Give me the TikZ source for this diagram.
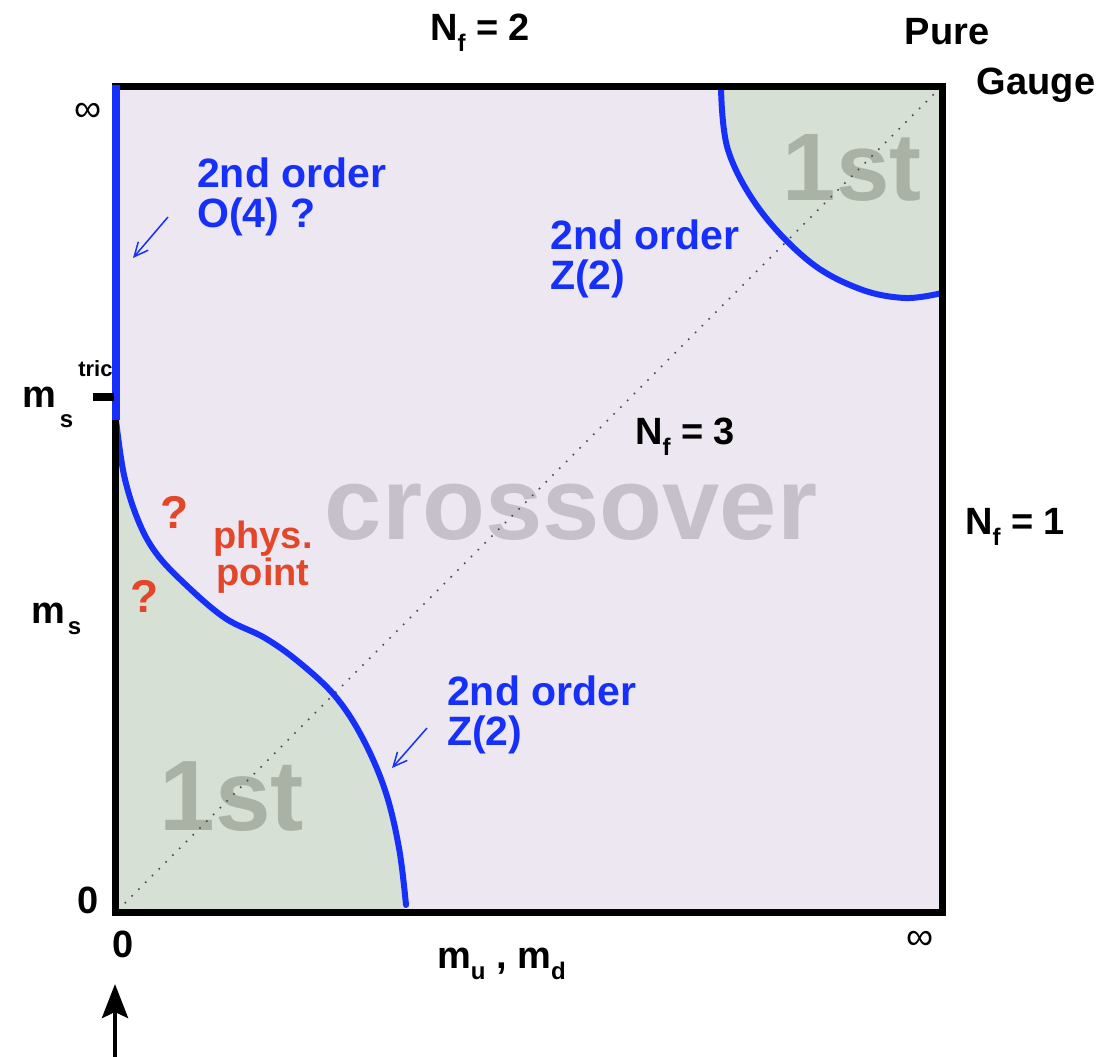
\documentclass[tikz,border=0pt]{standalone}
\usepackage{fontspec}
\setmainfont{Liberation Sans}
\usetikzlibrary{arrows.meta}
\definecolor{pdBlue}{RGB}{22,48,250}
\definecolor{pdRed}{RGB}{228,70,42}
\definecolor{pdLilac}{RGB}{236,231,241}
\definecolor{pdGreen}{RGB}{214,224,213}
\definecolor{pdGray}{RGB}{197,192,202}
\definecolor{pdGrayG}{RGB}{170,178,166}
\newcommand{\lowsub}[1]{\raisebox{-11pt}{\fontsize{24}{24}\selectfont #1}}
\def\lowcurve{(116,420) (124,475) (138,520) (156,553) (185,584) (225,618) (265,638) (300,663) (335,696) (362,737) (385,790) (399,848)}
\def\highcurve{(721,87) (728,150) (760,210) (810,262) (860,289) (905,298) (942,293)}

\begin{document}
\begin{tikzpicture}[x=1pt, y=-1pt,
  lab/.style={font=\fontsize{38}{38}\selectfont\bfseries, inner sep=0pt},
  thin lab/.style={font=\fontsize{38}{38}\selectfont, inner sep=0pt},
  blue lab/.style={font=\fontsize{41}{40}\selectfont\bfseries, text=pdBlue, align=left, inner sep=0pt},
  red lab/.style={font=\fontsize{38}{37}\selectfont\bfseries, text=pdRed, align=center, inner sep=0pt},
  big lab/.style={font=\fontsize{#1}{#1}\selectfont\bfseries, inner sep=0pt},
  transition/.style={pdBlue, line width=6pt, line cap=round},
  pointer/.style={pdBlue, line width=1.5pt, -{Straight Barb[length=14pt, width=13pt]}}]
\useasboundingbox (0,0) rectangle (1104,1057);
% regions
\fill[pdLilac] (115,87) rectangle (942,912);
\fill[pdGreen] plot[smooth, tension=0.6] coordinates {\lowcurve (406,912)} -- (115,912) -- cycle;
\fill[pdGreen] plot[smooth, tension=0.6] coordinates {\highcurve} -- (942,87) -- cycle;
\node[big lab=103, text=pdGray] (cross) at (571,512) {crossover};
\node[big lab=100, text=pdGrayG] (first lo) at (232,797) {1st};
\node[big lab=96, text=pdGrayG] (first hi) at (852,168) {1st};
% N_f = 3 line
\draw[gray!60!black, line width=1.6pt, dash pattern=on 1.6pt off 8pt] (118,910) -- (940,88);
% transition lines
\draw[transition] (116,87) -- plot[smooth, tension=0.6] coordinates {\lowcurve (406,905)};
\draw[transition] plot[smooth, tension=0.6] coordinates {\highcurve};
% frame
\draw[line width=7pt] (115,87) rectangle (942,912);
\draw[pdBlue, line width=8pt] (116,85) -- (116,420);
\draw[line width=8pt] (93,397) -- (114,397);
% axis labels
\node[lab] (nf2) at (480,33) {N\lowsub{f} = 2};
\node[lab] (pure) at (947,32) {Pure};
\node[lab] (gauge) at (1036,85) {Gauge};
\node[lab] (nf1) at (1015,527) {N\lowsub{f} = 1};
\node[lab] (nf3) at (685,437) {N\lowsub{f} = 3};
\node[thin lab] (inf y) at (88,112) {∞};
\node[thin lab] (inf x) at (920,940) {∞};
\node[lab] (zero y) at (88,900) {0};
\node[lab] (zero x) at (123,944) {0};
\node[lab, anchor=base west] (ms tric) at (22,407) {m\hspace{4pt}\raisebox{-20pt}{\fontsize{24}{24}\selectfont s}\hspace{5pt}\raisebox{31pt}{\fontsize{22}{22}\selectfont tric}};
\node[lab, anchor=base west] (ms) at (31,623) {m\hspace{3pt}\lowsub{s}};
\node[lab, anchor=base west] (mud) at (437,968) {m\lowsub{u} , m\lowsub{d}};
% phase transitions
\node[blue lab, anchor=north west] (o4) at (197,158) {2nd order\\O(4) ?};
\node[blue lab, anchor=north west] (z2 hi) at (550,220) {2nd order\\Z(2)};
\node[blue lab, anchor=north west] (z2 lo) at (447,676) {2nd order\\Z(2)};
\coordinate (o4 from) at (168,217);
\coordinate (o4 to) at (133,258);
\coordinate (z2 from) at (427,728);
\coordinate (z2 to) at (392,768);
\draw[pointer] (o4 from) -- (o4 to);
\draw[pointer] (z2 from) -- (z2 to);
% physical point
\node[red lab] (q1) at (175,512) {\fontsize{46}{46}\selectfont ?};
\node[red lab] (q2) at (145,596) {\fontsize{46}{46}\selectfont ?};
\node[red lab] (phys) at (263,557) {phys.\\point};
\coordinate (arr base) at (115,1057);
\coordinate (arr tip) at (115,984);
\draw[line width=4.5pt, -{Stealth[length=34pt, width=26pt, inset=6pt]}] (arr base) -- (arr tip);
\end{tikzpicture}
\end{document}
